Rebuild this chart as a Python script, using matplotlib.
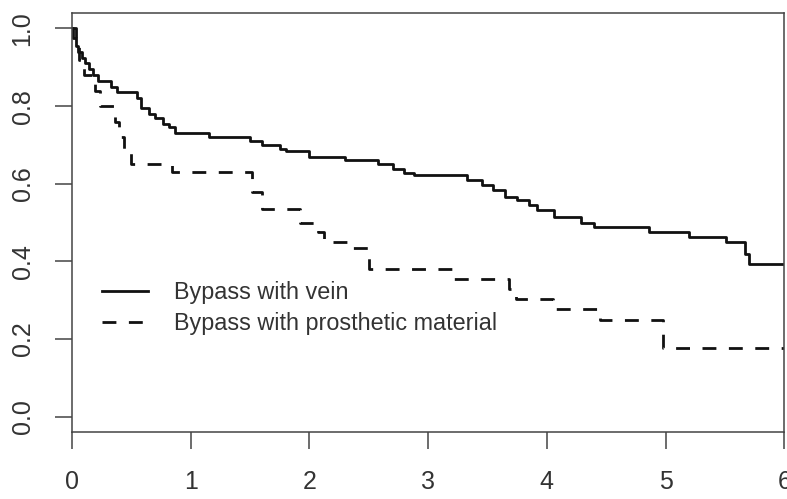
import matplotlib
matplotlib.use("Agg")
import matplotlib.pyplot as plt

plt.rcParams['font.family'] = ['Liberation Sans', 'DejaVu Sans']

# Kaplan-Meier step data (time in years, survival)
vein_t = [0, 0.01, 0.03, 0.05, 0.08, 0.11, 0.14, 0.18, 0.22, 0.33, 0.38, 0.55, 0.58,
          0.65, 0.70, 0.77, 0.82, 0.87, 1.15, 1.50, 1.60, 1.75, 1.80, 2.00, 2.30,
          2.58, 2.70, 2.80, 2.88, 3.33, 3.45, 3.55, 3.65, 3.75, 3.85, 3.92, 4.06,
          4.29, 4.40, 4.86, 5.20, 5.51, 5.67, 5.70, 6.0]
vein_s = [1.0, 0.975, 0.955, 0.94, 0.925, 0.91, 0.895, 0.88, 0.865, 0.85, 0.837, 0.82, 0.795,
          0.78, 0.77, 0.755, 0.745, 0.73, 0.72, 0.71, 0.70, 0.69, 0.685, 0.67, 0.662,
          0.65, 0.638, 0.628, 0.623, 0.61, 0.597, 0.584, 0.566, 0.558, 0.545, 0.532, 0.514,
          0.50, 0.488, 0.475, 0.462, 0.45, 0.42, 0.393, 0.393]

pros_t = [0, 0.03, 0.06, 0.10, 0.19, 0.24, 0.36, 0.40, 0.44, 0.50, 0.84, 1.52, 1.60,
          1.92, 2.07, 2.12, 2.35, 2.50, 3.22, 3.68, 3.74, 4.05, 4.45, 4.98, 6.0]
pros_s = [1.0, 0.96, 0.92, 0.88, 0.84, 0.80, 0.76, 0.72, 0.68, 0.65, 0.63, 0.58, 0.535,
          0.50, 0.475, 0.45, 0.434, 0.38, 0.355, 0.33, 0.303, 0.278, 0.25, 0.178, 0.178]

labels = ["Bypass with vein", "Bypass with prosthetic material"]
xticks = [0, 1, 2, 3, 4, 5, 6]
yticks = [0.0, 0.2, 0.4, 0.6, 0.8, 1.0]

fig = plt.figure(figsize=(7.87, 4.99), dpi=100)
ax = fig.add_axes([0.0915, 0.134, 0.905, 0.840])

ax.step(vein_t, vein_s, where='post', color='#111111', lw=2.0, label=labels[0])
ax.step(pros_t, pros_s, where='post', color='#111111', lw=2.0,
        linestyle=(0, (5.0, 4.5)), label=labels[1])

ax.set_xlim(0, 6)
ax.set_ylim(-0.04, 1.04)
ax.set_xticks(xticks)
ax.set_xticklabels([str(x) for x in xticks])
ax.set_yticks(yticks)
ax.set_yticklabels([f"{y:.1f}" for y in yticks], rotation=90, va='center')

for sp in ax.spines.values():
    sp.set_color('#444444')
    sp.set_linewidth(1.1)

ax.tick_params(axis='both', direction='out', length=12, width=1.1, color='#444444',
               labelsize=18, labelcolor='#333333')
ax.tick_params(axis='x', pad=15)
ax.tick_params(axis='y', pad=15)

leg = ax.legend(loc='upper left', bbox_to_anchor=(0.012, 0.41), frameon=False,
                fontsize=16.8, handlelength=2.0, handletextpad=1.1, labelspacing=0.32,
                labelcolor='#333333')

fig.savefig("out.png", dpi=100)
